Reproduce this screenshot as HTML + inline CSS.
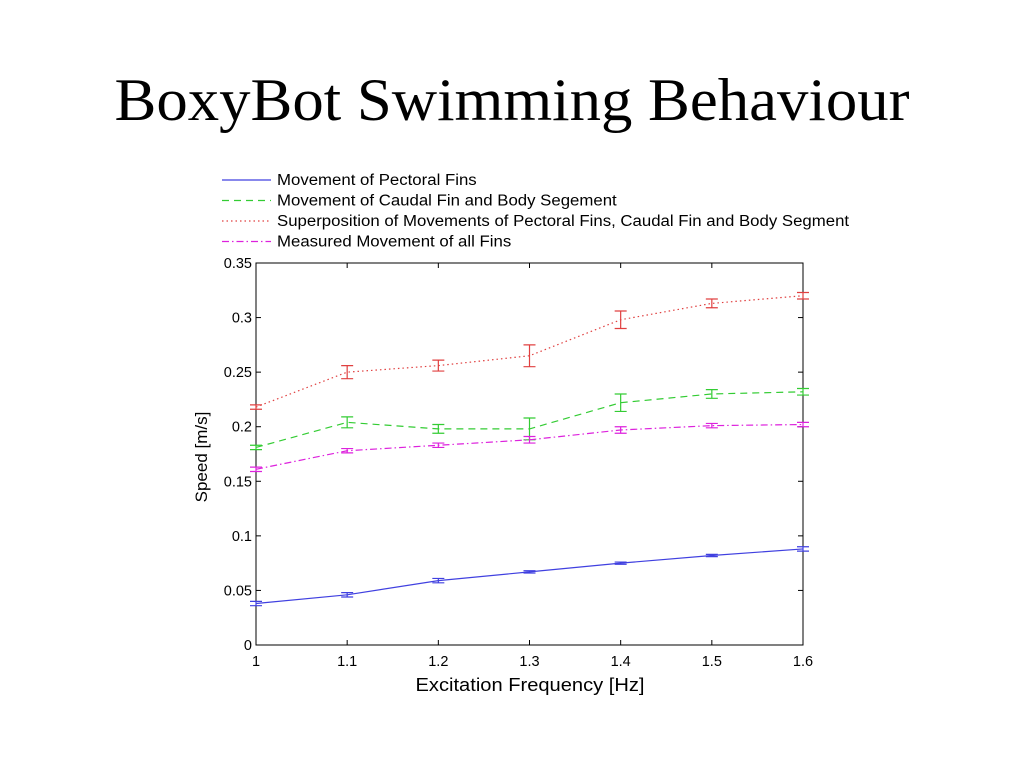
<!DOCTYPE html>
<html><head><meta charset="utf-8"><style>
html,body{margin:0;padding:0;background:#fff;width:1024px;height:768px;overflow:hidden}
svg text{font-family:"Liberation Sans",Arial,sans-serif}
</style></head><body>
<svg id="chart" width="1024" height="768" xmlns="http://www.w3.org/2000/svg">
<text x="512" y="120" text-anchor="middle" textLength="795" lengthAdjust="spacingAndGlyphs" style="font-family:'Liberation Serif',serif;font-size:60px">BoxyBot Swimming Behaviour</text>
<g id="legend"></g>
<rect x="256" y="263" width="547" height="382" fill="none" stroke="#000" stroke-width="1"/>
<g id="ticks"></g>
<g id="series"></g>
<text x="530" y="691" text-anchor="middle" font-size="18" textLength="229" lengthAdjust="spacingAndGlyphs">Excitation Frequency [Hz]</text>
<text transform="translate(207,457) rotate(-90)" text-anchor="middle" font-size="17">Speed [m/s]</text>
</svg>
<script>
const xValues=[1,1.1,1.2,1.3,1.4,1.5,1.6];
const xTickLabels=["1","1.1","1.2","1.3","1.4","1.5","1.6"];
const yTicks=[0,0.05,0.1,0.15,0.2,0.25,0.3,0.35];
const yTickLabels=["0","0.05","0.1","0.15","0.2","0.25","0.3","0.35"];
const pectoral=[0.038,0.046,0.059,0.067,0.075,0.082,0.088];
const pectoralErr=[0.002,0.002,0.002,0.001,0.001,0.001,0.002];
const caudal=[0.181,0.204,0.198,0.198,0.222,0.230,0.232];
const caudalErr=[0.002,0.005,0.004,0.010,0.008,0.004,0.003];
const superpos=[0.218,0.250,0.256,0.265,0.298,0.313,0.320];
const superposErr=[0.002,0.006,0.005,0.010,0.008,0.004,0.003];
const measured=[0.161,0.178,0.183,0.188,0.197,0.201,0.202];
const measuredErr=[0.002,0.002,0.002,0.003,0.003,0.002,0.002];
const legendLabels=["Movement of Pectoral Fins","Movement of Caudal Fin and Body Segement","Superposition of Movements of Pectoral Fins, Caudal Fin and Body Segment","Measured Movement of all Fins"];

const NS="http://www.w3.org/2000/svg";
const X0=256,X1=803,Y0=645,Y1=263;
const sx=v=>X0+(v-1)/(0.6)*(X1-X0);
const sy=v=>Y0-v/0.35*(Y0-Y1);
function mk(tag,attrs,parent){const e=document.createElementNS(NS,tag);for(const k in attrs)e.setAttribute(k,attrs[k]);parent.appendChild(e);return e;}
const ticks=document.getElementById('ticks');
xValues.forEach((v,i)=>{
  const x=sx(v);
  const t1=mk('line',{x1:x,x2:x,y1:Y0,y2:Y0-5,stroke:'#000'},ticks);
  
  
  mk('line',{x1:x,x2:x,y1:Y1,y2:Y1+5,stroke:'#000'},ticks);
  const t=mk('text',{x:x,y:666,'text-anchor':'middle','font-size':14.5},ticks);
  
  
  t.textContent=xTickLabels[i];
});
yTicks.forEach((v,i)=>{
  const y=sy(v);
  const t1=mk('line',{x1:X0,x2:X0+5,y1:y,y2:y,stroke:'#000'},ticks);
  
  
  mk('line',{x1:X1,x2:X1-5,y1:y,y2:y,stroke:'#000'},ticks);
  const t=mk('text',{x:252,y:y+5,'text-anchor':'end','font-size':14.5},ticks);
  
  
  t.textContent=yTickLabels[i];
});
const styles=[
 {vals:pectoral,err:pectoralErr,color:'#4040e0',dash:'',name:'pectoral'},
 {vals:caudal,err:caudalErr,color:'#33cc33',dash:'7,5',name:'caudal'},
 {vals:superpos,err:superposErr,color:'#e04040',dash:'1.5,3',name:'superposition'},
 {vals:measured,err:measuredErr,color:'#dd22dd',dash:'7,3,1.5,3',name:'measured'}
];
const sg=document.getElementById('series');
styles.forEach(s=>{
  const pts=s.vals.map((v,i)=>sx(xValues[i])+','+sy(v)).join(' ');
  const pl=mk('polyline',{points:pts,fill:'none',stroke:s.color,'stroke-width':1.2,'stroke-dasharray':s.dash},sg);
  
  
  s.vals.forEach((v,i)=>{
    const x=sx(xValues[i]),yt=sy(v+s.err[i]),yb=sy(v-s.err[i]);
    const p=mk('path',{d:`M${x},${yt}V${yb}M${x-6},${yt}H${x+6}M${x-6},${yb}H${x+6}`,stroke:s.color,'stroke-width':1.2,fill:'none'},sg);
    
    
  });
});
const lg=document.getElementById('legend');
const legendScale=572/494;
legendLabels.forEach((lab,i)=>{
  const y=180+i*20.5;
  const l=mk('line',{x1:222,x2:271,y1:y,y2:y,stroke:styles[i].color,'stroke-width':1.2,'stroke-dasharray':styles[i].dash},lg);
  
  
  const t=mk('text',{x:277,y:y+5,'font-size':15.5},lg);
  
  
  t.textContent=lab;
  const w=t.getComputedTextLength();
  if(w>0){t.setAttribute('textLength',w*legendScale*14.5/15.5);t.setAttribute('lengthAdjust','spacingAndGlyphs');}
});
</script>
</body></html>
